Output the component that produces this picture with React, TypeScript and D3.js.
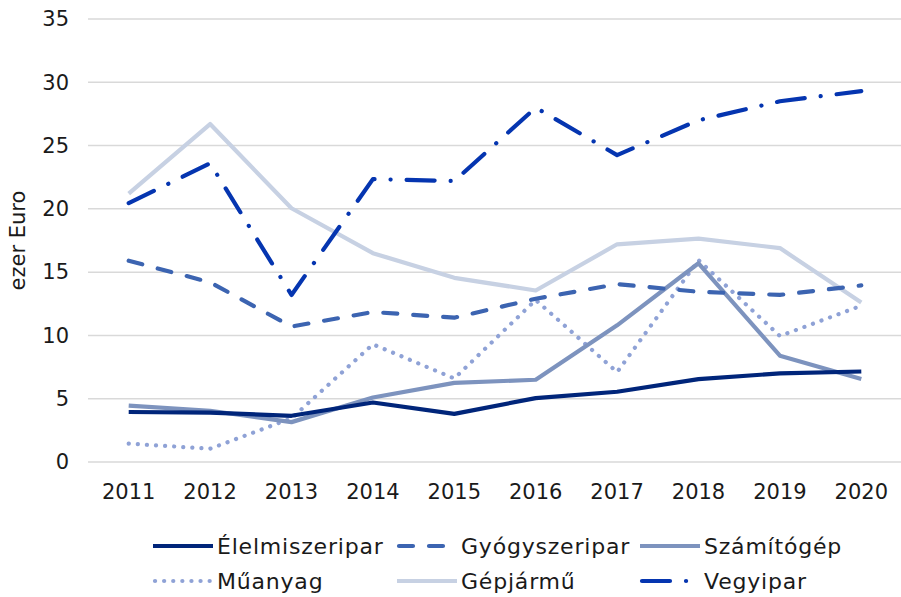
import React from "react";
import * as d3 from "d3";

const years = ["2011", "2012", "2013", "2014", "2015", "2016", "2017", "2018", "2019", "2020"];
const yTicks = [0, 5, 10, 15, 20, 25, 30, 35];

const elelmiszeripar = [3.95, 3.9, 3.65, 4.7, 3.8, 5.05, 5.55, 6.55, 7.0, 7.15];
const gyogyszeripar = [15.9, 14.2, 10.7, 11.85, 11.4, 12.9, 14.05, 13.45, 13.2, 13.95];
const szamitogep = [4.45, 4.05, 3.15, 5.1, 6.25, 6.5, 10.8, 15.7, 8.4, 6.55];
const muanyag = [1.45, 1.05, 3.45, 9.3, 6.6, 12.8, 7.1, 15.95, 9.95, 12.35];
const gepjarmu = [21.2, 26.7, 20.05, 16.5, 14.55, 13.55, 17.2, 17.65, 16.9, 12.6];
const vegyipar = [20.45, 23.6, 13.2, 22.35, 22.2, 28.0, 24.25, 27.0, 28.5, 29.3];

const series = [
  { name: "Élelmiszeripar", values: elelmiszeripar, color: "#00257a", dash: "none" },
  { name: "Gyógyszeripar", values: gyogyszeripar, color: "#3c64b1", dash: "14 16" },
  { name: "Számítógép", values: szamitogep, color: "#7d93be", dash: "none" },
  { name: "Műanyag", values: muanyag, color: "#8fa2d6", dash: "0.1 9" },
  { name: "Gépjármű", values: gepjarmu, color: "#c7d1e3", dash: "none" },
  { name: "Vegyipar", values: vegyipar, color: "#0535b0", dash: "28 16 0.1 16" },
];

// draw order: light lines first
const drawOrder = ["Gépjármű", "Műanyag", "Számítógép", "Gyógyszeripar", "Élelmiszeripar", "Vegyipar"];

const font = "'DejaVu Sans', sans-serif";

export default function App() {
  const width = 901;
  const height = 597;
  const margin = { top: 19, right: 0, bottom: 135, left: 88 };
  const plotW = 814;
  const plotBottom = 462;

  const x = d3.scaleBand().domain(years).range([margin.left, margin.left + plotW]);
  const y = d3.scaleLinear().domain([0, 35]).range([plotBottom, margin.top]);

  const cx = (i: number) => (x(years[i]) as number) + x.bandwidth() / 2;
  const line = d3
    .line<number>()
    .x((_, i) => cx(i))
    .y((d) => y(d));

  const legendCols = [153, 397, 640];
  const legendRows = [546, 581];

  return (
    <svg width={width} height={height} style={{ position: "absolute", left: 0, top: 0 }}>
      <rect width={width} height={height} fill="#fff" />
      {yTicks.map((t) => (
        <g key={t}>
          <line x1={margin.left} x2={margin.left + plotW} y1={y(t)} y2={y(t)} stroke="#d9d9d9" strokeWidth={1.5} />
          <text x={69} y={y(t)} dy="0.35em" textAnchor="end" fontFamily={font} fontSize={21} fill="#1a1a1a">
            {t}
          </text>
        </g>
      ))}
      {years.map((yr, i) => (
        <text key={yr} x={cx(i)} y={492} dy="0.35em" textAnchor="middle" fontFamily={font} fontSize={21} fill="#1a1a1a">
          {yr}
        </text>
      ))}
      <text
        transform={`translate(18,${(margin.top + plotBottom) / 2}) rotate(-90)`}
        textAnchor="middle"
        dy="0.35em"
        fontFamily={font}
        fontSize={21}
        fill="#1a1a1a"
      >
        ezer Euro
      </text>
      {drawOrder.map((n) => {
        const s = series.find((d) => d.name === n)!;
        return (
          <path
            key={n}
            d={line(s.values) as string}
            fill="none"
            stroke={s.color}
            strokeWidth={4.2}
            strokeDasharray={s.dash}
            strokeLinecap={s.dash === "none" ? "butt" : "round"}
            strokeLinejoin="round"
          />
        );
      })}
      {series.map((s, i) => {
        const lx = legendCols[i % 3];
        const ly = legendRows[Math.floor(i / 3)];
        return (
          <g key={s.name}>
            <line
              x1={lx + (s.dash === "none" ? 0 : 2)}
              x2={lx + 60}
              y1={ly}
              y2={ly}
              stroke={s.color}
              strokeWidth={4.2}
              strokeDasharray={s.dash}
              strokeLinecap={s.dash === "none" ? "butt" : "round"}
            />
            <text x={lx + 64} y={ly} dy="0.35em" fontFamily={font} fontSize={22} letterSpacing={0.8} fill="#1a1a1a">
              {s.name}
            </text>
          </g>
        );
      })}
    </svg>
  );
}
